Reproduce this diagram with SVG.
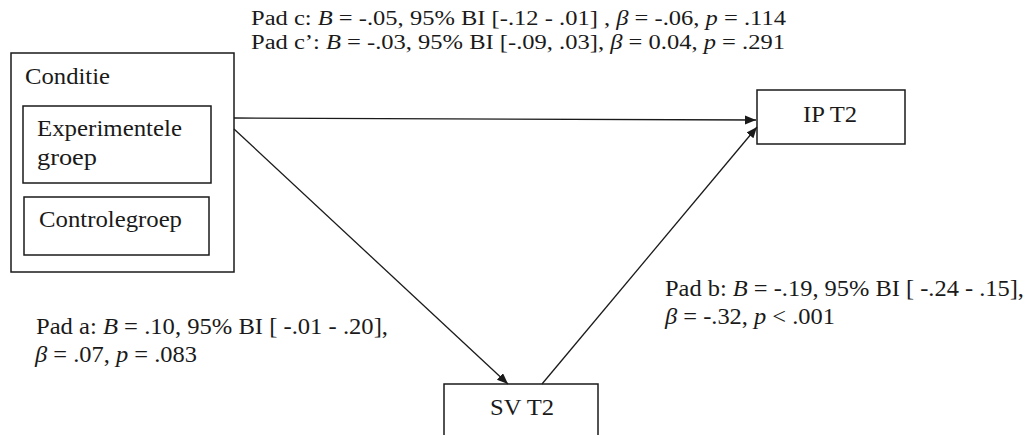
<svg xmlns="http://www.w3.org/2000/svg" width="1030" height="435" viewBox="0 0 1030 435">
<style>
.box{fill:#fff;stroke:#1a1a1a;stroke-width:1.5}
.t{font-family:'Liberation Serif','Times New Roman',Times,'DejaVu Serif',serif;font-size:24px;font-weight:400;fill:#1a1a1a}
.s{font-size:20px}
.i{font-style:italic}
.c{stroke:#1a1a1a;stroke-width:1.3;fill:none;marker-end:url(#ah)}
</style>
<defs>
<marker id="ah" markerUnits="userSpaceOnUse" markerWidth="12" markerHeight="10" refX="11" refY="4.5" orient="auto">
<path d="M0,0 L11,4.5 L0,9 z" fill="#1a1a1a"/>
</marker>
</defs>
<rect width="1030" height="435" fill="#fff"/>
<g id="conditie">
<rect class="box" x="11" y="53" width="223" height="219"/>
<text class="t" x="25" y="84" textLength="85" lengthAdjust="spacingAndGlyphs">Conditie</text>
</g>
<g id="experimentele">
<rect class="box" x="23" y="106" width="188" height="77"/>
<text class="t" x="37" y="136" textLength="145" lengthAdjust="spacingAndGlyphs">Experimentele</text>
<text class="t" x="37" y="165" textLength="60" lengthAdjust="spacingAndGlyphs">groep</text>
</g>
<g id="controlegroep">
<rect class="box" x="24" y="197" width="185" height="58"/>
<text class="t" x="39" y="227" textLength="143" lengthAdjust="spacingAndGlyphs">Controlegroep</text>
</g>
<g id="ipt2">
<rect class="box" x="757" y="90" width="148" height="54"/>
<text class="t" x="803" y="122" textLength="54" lengthAdjust="spacingAndGlyphs">IP T2</text>
</g>
<g id="svt2">
<rect class="box" x="444" y="384" width="154" height="60"/>
<text class="t" x="490" y="415" textLength="64" lengthAdjust="spacingAndGlyphs">SV T2</text>
</g>
<g id="connectors">
<line class="c" x1="234" y1="118" x2="756" y2="120"/>
<line class="c" x1="234" y1="129" x2="508" y2="384"/>
<line class="c" x1="542" y1="384" x2="757" y2="127"/>
</g>
<g id="labels">
<text class="t s" x="251" y="25" textLength="535" lengthAdjust="spacingAndGlyphs">Pad c: <tspan class="i">B</tspan> = -.05, 95% BI [-.12 - .01] , <tspan class="i">β</tspan> = -.06, <tspan class="i">p</tspan> = .114</text>
<text class="t s" x="251" y="49" textLength="534" lengthAdjust="spacingAndGlyphs">Pad c’: <tspan class="i">B</tspan> = -.03, 95% BI [-.09, .03], <tspan class="i">β</tspan> = 0.04, <tspan class="i">p</tspan> = .291</text>
<text class="t" x="36" y="334" textLength="352" lengthAdjust="spacingAndGlyphs">Pad a: <tspan class="i">B</tspan> = .10, 95% BI [ -.01 - .20],</text>
<text class="t" x="35" y="362" textLength="162" lengthAdjust="spacingAndGlyphs"><tspan class="i">β</tspan> = .07, <tspan class="i">p</tspan> = .083</text>
<text class="t" x="665" y="296" textLength="359" lengthAdjust="spacingAndGlyphs">Pad b: <tspan class="i">B</tspan> = -.19, 95% BI [ -.24 - .15],</text>
<text class="t" x="665" y="324" textLength="170" lengthAdjust="spacingAndGlyphs"><tspan class="i">β</tspan> = -.32, <tspan class="i">p</tspan> &lt; .001</text>
</g>
</svg>
